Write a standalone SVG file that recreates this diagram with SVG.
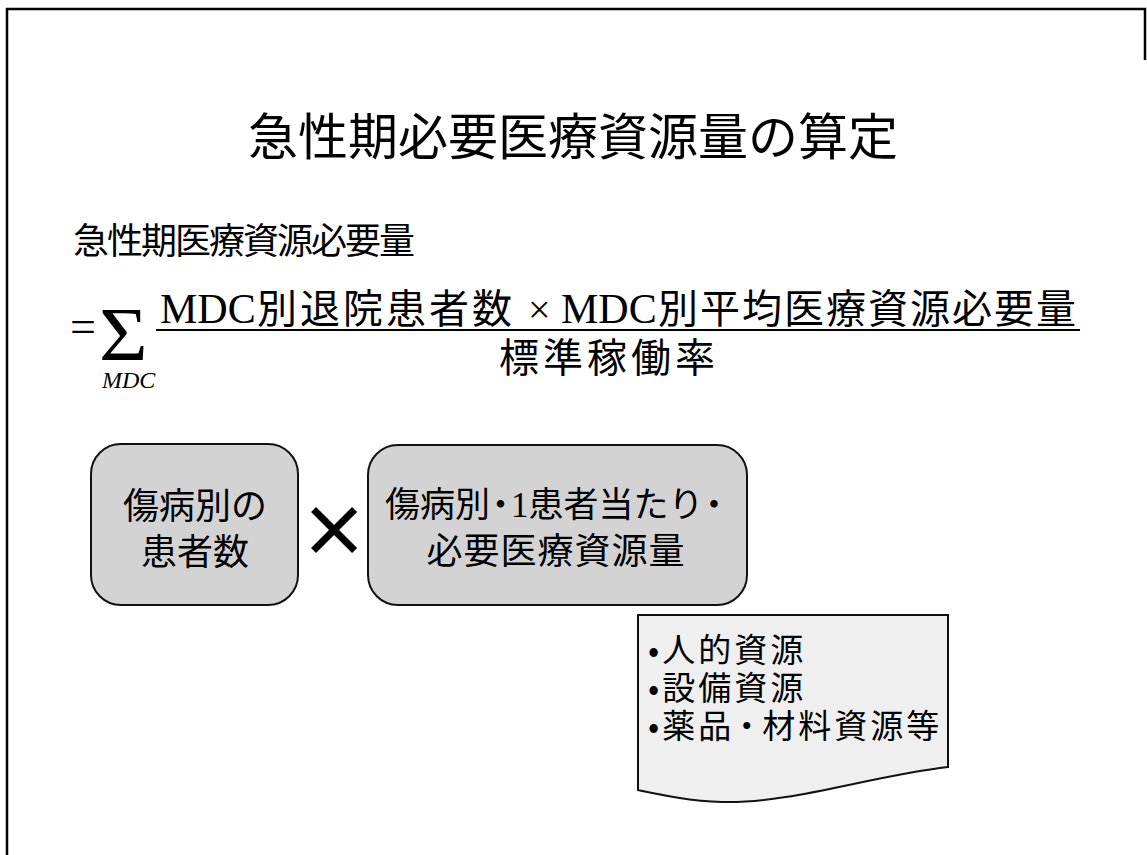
<svg xmlns="http://www.w3.org/2000/svg" width="1147" height="855" viewBox="0 0 1147 855">
<style>
.jp{font-family:"Noto Sans CJK JP","Noto Sans CJK SC",sans-serif;fill:#000}
.ser{font-family:"Liberation Serif",serif;fill:#000}
.box{fill:#d3d3d3;stroke:#111;stroke-width:2}
.doc{fill:#efefef;stroke:#111;stroke-width:2}
.frame{stroke:#000;stroke-width:2.5;fill:none}
</style>
<rect width="1147" height="855" fill="#fff"/>
<g id="frame">
<path class="frame" d="M7,855 V9 H1145 V60"/>
</g>
<g id="title">
<text class="jp" x="573" y="155" font-size="50" text-anchor="middle">急性期必要医療資源量の算定</text>
</g>
<g id="formula">
<text class="jp" x="73" y="254" font-size="36" letter-spacing="-2">急性期医療資源必要量</text>
<text class="ser" x="70" y="342" font-size="46">=</text>
<text class="ser" font-size="76" transform="translate(99,360) scale(1.1,1)">Σ</text>
<text class="ser" x="102" y="388" font-size="24" font-style="italic">MDC</text>
<text y="323" font-size="40"><tspan class="ser" x="160" font-size="42">MDC</tspan><tspan class="jp" x="257" letter-spacing="3">別退院患者数</tspan><tspan class="ser" x="528" font-size="40">×</tspan><tspan class="ser" x="561" font-size="42">MDC</tspan><tspan class="jp" x="658" letter-spacing="2">別平均医療資源必要量</tspan></text>
<line x1="156" y1="330" x2="1080" y2="330" stroke="#000" stroke-width="2"/>
<text class="jp" x="609" y="372" font-size="40" letter-spacing="4" text-anchor="middle">標準稼働率</text>
</g>
<g id="node-patients">
<rect class="box" x="91" y="444" width="207" height="161" rx="30"/>
<text class="jp" x="195" y="519" font-size="36" text-anchor="middle">傷病別の</text>
<text class="jp" x="195" y="565" font-size="36" text-anchor="middle">患者数</text>
</g>
<g id="times">
<text class="jp" x="334" y="557" font-size="70" font-weight="bold" text-anchor="middle">×</text>
</g>
<g id="node-resources">
<rect class="box" x="368" y="445" width="379" height="160" rx="30"/>
<text x="385" y="517" font-size="35"><tspan class="jp">傷病別</tspan><tspan class="jp" dx="-7">・</tspan><tspan class="ser" dx="-7">1</tspan><tspan class="jp">患者当たり</tspan><tspan class="jp" dx="-7">・</tspan></text>
<text class="jp" x="556" y="564" font-size="36" letter-spacing="1" text-anchor="middle">必要医療資源量</text>
</g>
<g id="node-doc">
<path class="doc" d="M638,615 H948 V767 C870,776 790,804 722,802 C690,801 662,795 638,790 Z"/>
<text class="jp" x="648" y="662" font-size="33" letter-spacing="3">•人的資源</text>
<text class="jp" x="648" y="700" font-size="33" letter-spacing="3">•設備資源</text>
<text class="jp" x="648" y="738" font-size="33" letter-spacing="3"><tspan>•薬品</tspan><tspan dx="-4">・</tspan><tspan dx="-4">材料資源等</tspan></text>
</g>
<g id="connectors"></g>
</svg>
